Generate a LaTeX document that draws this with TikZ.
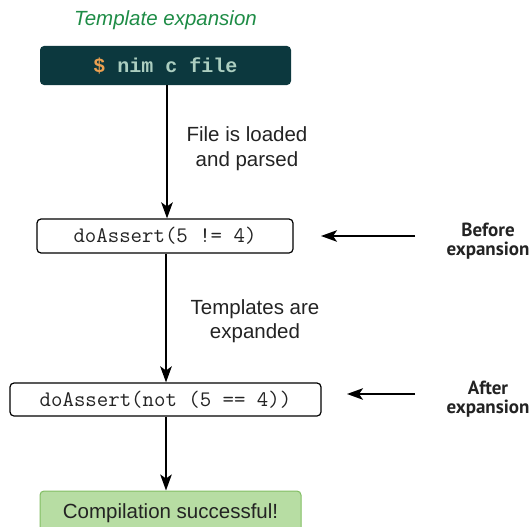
\documentclass[tikz,border=0pt]{standalone}
\usepackage{fontspec}
\setmainfont{Liberation Sans}
\newfontfamily\monof{Liberation Mono}
\newfontfamily\condf{PT Sans}
\usetikzlibrary{arrows.meta}
\definecolor{titlegreen}{RGB}{30,140,70}
\definecolor{cmdbg}{RGB}{12,56,62}
\definecolor{cmdtext}{RGB}{172,206,192}
\definecolor{dollar}{RGB}{236,160,80}
\definecolor{okfill}{RGB}{183,221,163}
\definecolor{okdraw}{RGB}{130,190,100}
\definecolor{txt}{RGB}{35,35,35}
\tikzset{
  arr/.style={line width=2pt, -{Stealth[length=16pt,width=11.5pt,inset=4pt]}},
  codebox/.style={draw=black, line width=1.2pt, rounded corners=4pt, inner sep=0pt,
    font=\ttfamily\fontsize{22.2}{24}\selectfont, text=txt},
  lbl/.style={font=\fontsize{20.5}{25}\selectfont, text=txt, anchor=base, inner sep=0pt},
  side/.style={font=\condf\bfseries\fontsize{19}{19.5}\selectfont, text=txt, align=center, inner sep=0pt},
}
\begin{document}
\begin{tikzpicture}[x=1pt,y=-1pt]
\useasboundingbox (0,0) rectangle (530,527);
\node[anchor=base, inner sep=0pt, text=titlegreen, font=\itshape\fontsize{20.5}{24}\selectfont] (title) at (165.5,26) {Template expansion};
\node[fill=cmdbg, rounded corners=4pt, minimum width=251pt, minimum height=39pt, inner sep=0pt,
  font=\monof\bfseries\fontsize{20}{24}\selectfont, text=cmdtext] (cmd) at (165.5,65.5) {\textcolor{dollar}{\$} nim c file};
\node[codebox, minimum width=256pt, minimum height=34pt] (b2) at (165,236) {doAssert(5 != 4)};
\node[codebox, minimum width=311pt, minimum height=33pt] (b3) at (165.5,399.5) {doAssert(not (5 == 4))};
\node[fill=okfill, draw=okdraw, line width=1pt, rounded corners=4pt, minimum width=261pt, minimum height=44pt, inner sep=0pt,
  font=\fontsize{20.5}{24}\selectfont, text=txt] (ok) at (170.5,513) {Compilation successful!};
\node[lbl] (l1a) at (247,141.5) {File is loaded};
\node[lbl] (l1b) at (247,166.5) {and parsed};
\node[lbl] (l2a) at (255,314) {Templates are};
\node[lbl] (l2b) at (255,338.5) {expanded};
\node[side] (before) at (488,241) {Before\\expansion};
\node[side] (after) at (488,399) {After\\expansion};
\coordinate (s1) at (415,236);
\coordinate (t1) at (321,236);
\coordinate (s2) at (415,394);
\coordinate (t2) at (347,394);
\draw[arr] (167,0 |- cmd.south) -- (167,0 |- b2.north);
\draw[arr] (166,0 |- b2.south) -- (166,0 |- b3.north);
\draw[arr] (166,0 |- b3.south) -- (166,0 |- ok.north);
\draw[arr] (s1) -- (t1);
\draw[arr] (s2) -- (t2);
\end{tikzpicture}
\end{document}
